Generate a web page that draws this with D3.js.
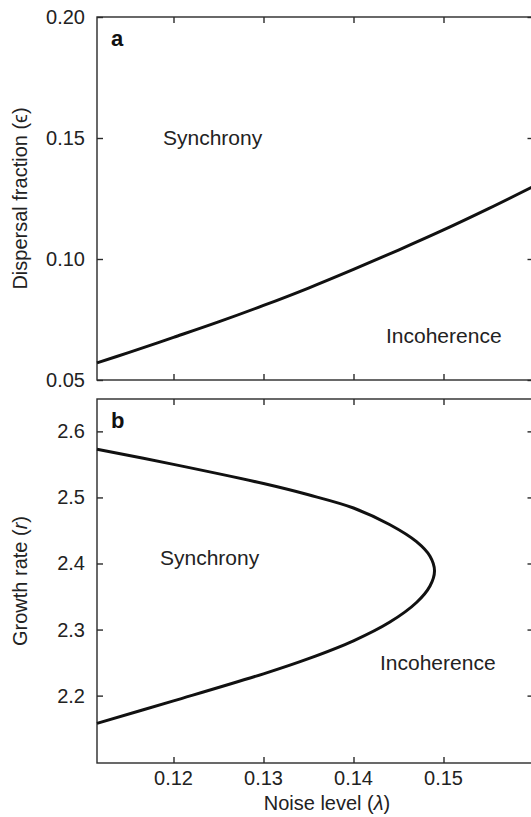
<!DOCTYPE html>
<html>
<head>
<meta charset="utf-8">
<script src="https://cdn.jsdelivr.net/npm/d3@7"></script>
<style>
  body { margin: 0; background: #fff; }
  svg { display: block; font-family: "Liberation Sans", Arial, Helvetica, sans-serif; }
</style>
</head>
<body>
<svg id="chart"></svg>
<script>
// panel a: dispersal fraction threshold vs noise level
const lambdaA = [0.1115, 0.115, 0.12, 0.125, 0.13, 0.135, 0.14, 0.145, 0.15, 0.155, 0.16];
const epsA = [0.0571, 0.0613, 0.0676, 0.0740, 0.0808, 0.0880, 0.0957, 0.1037, 0.1120, 0.1208, 0.1300];

// panel b: growth rate boundary (traced around the tip)
const lambdaB = [0.1115, 0.12, 0.13, 0.135, 0.14, 0.144, 0.147, 0.1485, 0.149, 0.1485, 0.147, 0.144, 0.14, 0.135, 0.13, 0.12, 0.1115];
const rateB = [2.573, 2.550, 2.521, 2.504, 2.484, 2.459, 2.433, 2.411, 2.389, 2.366, 2.341, 2.311, 2.283, 2.256, 2.233, 2.192, 2.158];

const xTicks = [0.12, 0.13, 0.14, 0.15];
const yTicksA = [0.05, 0.10, 0.15, 0.20];
const yTicksB = [2.2, 2.3, 2.4, 2.5, 2.6];

const W = 531, H = 817;
const left = 97, right = 533.5;
const tickLen = 6;

const svg = d3.select("#chart").attr("width", W).attr("height", H);

const xScale = d3.scaleLinear().domain([0.1115, 0.16]).range([left, right]);

function drawPanel(top, bottom, yScale, yTicks, yFmt, letter, showXLabels) {
  const g = svg.append("g");

  g.append("rect")
    .attr("x", left).attr("y", top)
    .attr("width", right - left).attr("height", bottom - top)
    .attr("fill", "none").attr("stroke", "#2a2a2a").attr("stroke-width", 1.4);

  // inward ticks, all four sides
  const ax = [
    [d3.axisBottom(xScale).tickValues(xTicks).tickSize(-tickLen), `translate(0,${bottom})`],
    [d3.axisTop(xScale).tickValues(xTicks).tickSize(-tickLen), `translate(0,${top})`],
    [d3.axisLeft(yScale).tickValues(yTicks).tickSize(-tickLen), `translate(${left},0)`],
    [d3.axisRight(yScale).tickValues(yTicks).tickSize(-tickLen), `translate(${right},0)`]
  ];
  ax.forEach(([a, t]) => {
    const s = g.append("g").attr("transform", t).call(a);
    s.select(".domain").remove();
    s.selectAll(".tick line").attr("stroke", "#2a2a2a").attr("stroke-width", 1.4);
    s.selectAll(".tick text").remove();
  });

  // y tick labels
  g.append("g").selectAll("text").data(yTicks).join("text")
    .attr("x", 85).attr("y", d => yScale(d))
    .attr("dy", "0.35em")
    .attr("text-anchor", "end")
    .attr("font-size", 20).attr("fill", "#222")
    .text(yFmt);

  if (showXLabels) {
    g.append("g").selectAll("text").data(xTicks).join("text")
      .attr("x", d => xScale(d)).attr("y", 785)
      .attr("text-anchor", "middle")
      .attr("font-size", 20).attr("fill", "#222")
      .text(d3.format(".2f"));
  }

  g.append("text")
    .attr("x", 111).attr("y", top + 29)
    .attr("font-size", 22).attr("font-weight", "bold").attr("fill", "#111")
    .text(letter);

  return g;
}

// ---- panel a
const yA = d3.scaleLinear().domain([0.05, 0.20]).range([380, 17]);
const gA = drawPanel(17, 380, yA, yTicksA, d3.format(".2f"), "a", false);

const lineA = d3.line().x(d => xScale(d[0])).y(d => yA(d[1])).curve(d3.curveCatmullRom);
gA.append("path")
  .datum(lambdaA.map((l, i) => [l, epsA[i]]))
  .attr("d", lineA)
  .attr("fill", "none").attr("stroke", "#111").attr("stroke-width", 3);

gA.append("text").attr("x", 163).attr("y", 145)
  .attr("font-size", 21).attr("fill", "#222").text("Synchrony");
gA.append("text").attr("x", 386).attr("y", 343)
  .attr("font-size", 21).attr("fill", "#222").text("Incoherence");

svg.append("text")
  .attr("transform", `translate(27,${(17 + 380) / 2}) rotate(-90)`)
  .attr("text-anchor", "middle")
  .attr("font-size", 20).attr("fill", "#222")
  .text("Dispersal fraction (\u03F5)");

// ---- panel b
const yB = d3.scaleLinear().domain([2.098, 2.649]).range([763, 399]);
const gB = drawPanel(399, 763, yB, yTicksB, d3.format(".1f"), "b", true);

const lineB = d3.line().x(d => xScale(d[0])).y(d => yB(d[1])).curve(d3.curveCatmullRom);
gB.append("path")
  .datum(lambdaB.map((l, i) => [l, rateB[i]]))
  .attr("d", lineB)
  .attr("fill", "none").attr("stroke", "#111").attr("stroke-width", 3);

gB.append("text").attr("x", 160).attr("y", 565)
  .attr("font-size", 21).attr("fill", "#222").text("Synchrony");
gB.append("text").attr("x", 380).attr("y", 670)
  .attr("font-size", 21).attr("fill", "#222").text("Incoherence");

const yLabB = svg.append("text")
  .attr("transform", `translate(27,${(399 + 763) / 2}) rotate(-90)`)
  .attr("text-anchor", "middle")
  .attr("font-size", 20).attr("fill", "#222");
yLabB.append("tspan").text("Growth rate (");
yLabB.append("tspan").attr("font-style", "italic").text("r");
yLabB.append("tspan").text(")");

const xLab = svg.append("text")
  .attr("x", 327).attr("y", 810)
  .attr("text-anchor", "middle")
  .attr("font-size", 20).attr("fill", "#222");
xLab.append("tspan").text("Noise level (");
xLab.append("tspan").attr("font-style", "italic").text("\u03BB");
xLab.append("tspan").text(")");
</script>
</body>
</html>
